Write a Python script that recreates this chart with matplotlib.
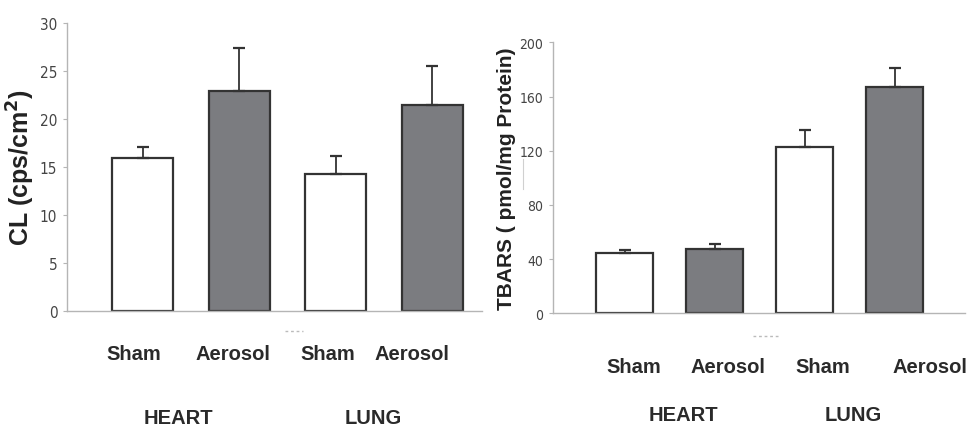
import matplotlib
matplotlib.use("Agg")
import matplotlib.pyplot as plt
import matplotlib.transforms as mtransforms

# ---------------- data ----------------
groups = ["HEART", "LUNG"]
conditions = ["Sham", "Aerosol", "Sham", "Aerosol"]

cl_values = [15.9, 22.95, 14.3, 21.5]
cl_errors = [1.2, 4.45, 1.8, 4.0]

tbars_values = [44.3, 47.2, 123.0, 167.2]
tbars_errors = [2.6, 3.7, 12.5, 13.6]

cl_yticks = [0, 5, 10, 15, 20, 25, 30]
tbars_yticks = [0, 40, 80, 120, 160, 200]

# ---------------- style ----------------
W, H = 972, 427
fig = plt.figure(figsize=(W / 100, H / 100), dpi=100)
fig.patch.set_facecolor("white")

TICK_FONT = ["DejaVu Sans"]
BOLD_FONT = ["Liberation Sans", "DejaVu Sans"]
BAR_FACES = ["white", "#7b7c80", "white", "#7b7c80"]
EDGE = "#333333"
SPINE = "#b5b5b5"


def ax_rect(x0, x1, ybot, ytop):
    return [x0 / W, 1 - ybot / H, (x1 - x0) / W, (ybot - ytop) / H]


def panel(rect, values, errors, yticks, ylim, xlim, tick_fs, ylabel, ylabel_fs,
          ylabel_x, cond_x, cond_y, group_x, group_y, dash_x, dash_y):
    ax = fig.add_axes(rect)
    xs = list(range(len(values)))
    ax.bar(xs, values, width=0.63, color=BAR_FACES, edgecolor=EDGE,
           linewidth=1.6, zorder=2)
    ax.errorbar(xs, values, yerr=[[0] * len(errors), errors], fmt="none",
                ecolor=EDGE, elinewidth=1.3, capsize=4.5, capthick=1.6, zorder=3)
    ax.set_xlim(*xlim)
    ax.set_ylim(*ylim)
    ax.set_yticks(yticks)
    ax.set_yticklabels([str(t) for t in yticks], family=TICK_FONT,
                       fontstretch="condensed", fontsize=tick_fs,
                       color="#444444")
    ax.set_xticks([])
    for s in ["top", "right"]:
        ax.spines[s].set_visible(False)
    for s in ["left", "bottom"]:
        ax.spines[s].set_color(SPINE)
        ax.spines[s].set_linewidth(1.0)
    ax.tick_params(axis="y", direction="out", length=3, width=0.8,
                   color=SPINE, pad=4)
    ax.set_ylabel(ylabel, family=BOLD_FONT, fontweight="bold",
                  fontsize=ylabel_fs, color="#222222")
    ax.yaxis.set_label_coords(ylabel_x, 0.5)
    trans = mtransforms.blended_transform_factory(ax.transData, ax.transAxes)
    for x, lab in zip(cond_x, conditions):
        ax.text(x, cond_y, lab, transform=trans, ha="center", va="center",
                family=BOLD_FONT, fontweight="bold", fontsize=14.5,
                color="#2a2a2a", clip_on=False)
    for x, lab in zip(group_x, groups):
        ax.text(x, group_y, lab, transform=trans, ha="center", va="center",
                family=BOLD_FONT, fontweight="bold", fontsize=14.5,
                color="#2a2a2a", clip_on=False)
    ax.plot(dash_x, [dash_y, dash_y], transform=trans, color="#bbbbbb",
            linewidth=1.0, linestyle=(0, (2, 2)), clip_on=False)
    return ax


# left panel: CL
panel(ax_rect(67, 482, 312, 24), cl_values, cl_errors, cl_yticks, (0, 30),
      (-0.782, 3.515), 11, "CL (cps/cm$\\mathbf{^2}$)", 18, -0.072,
      cond_x=[-0.09, 0.94, 1.92, 2.79], cond_y=-0.146,
      group_x=[0.37, 2.39], group_y=-0.37,
      dash_x=[1.48, 1.66], dash_y=-0.07)

# right panel: TBARS
ax2 = panel(ax_rect(553, 965, 314.3, 43.3), tbars_values, tbars_errors,
            tbars_yticks, (0, 200), (-0.794, 3.78), 10,
            "TBARS ( pmol/mg Protein)", 15, -0.09,
            cond_x=[0.106, 1.15, 2.20, 3.39], cond_y=-0.198,
            group_x=[0.65, 2.54], group_y=-0.372,
            dash_x=[1.43, 1.73], dash_y=-0.085)

# faint artefact line next to the right y label
fig.add_artist(plt.Line2D([523 / W, 523 / W], [1 - 160 / H, 1 - 190 / H],
                          color="#d0d0d0", linewidth=0.8))

fig.savefig("out.png", dpi=100, facecolor="white")
